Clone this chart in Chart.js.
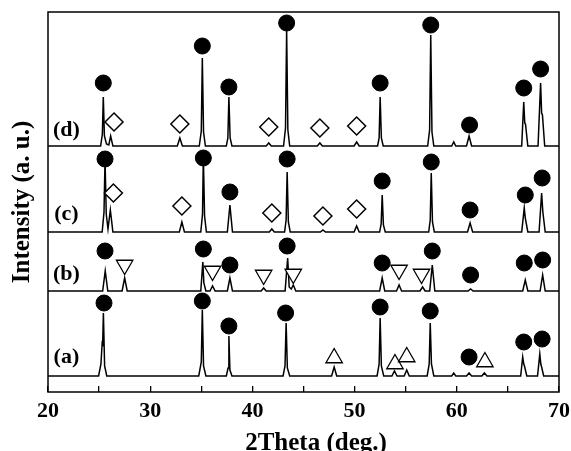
<!DOCTYPE html>
<html>
<head>
<meta charset="utf-8">
<script src="https://cdn.jsdelivr.net/npm/chart.js@4.4.1/dist/chart.umd.min.js"></script>
<style>
  body { margin: 0; background: #fff; overflow: hidden; }
</style>
</head>
<body>
<canvas id="xrdChart" width="571" height="451"></canvas>
<script>
// stacked XRD patterns, intensity above each baseline [2theta, I]
const patternA = [
    [20, 0], [24.95, 0], [25.18, 12], [25.3, 33], [25.35, 32], [25.42, 63], [25.54, 10], [25.75, 0],
    [34.75, 0], [35.0, 14], [35.1, 66], [35.22, 10], [35.45, 0],
    [37.45, 0], [37.62, 8], [37.7, 40], [37.8, 6], [38.0, 0],
    [43.0, 0], [43.19, 10], [43.3, 53], [43.42, 8], [43.65, 0],
    [47.75, 0], [48.0, 9], [48.25, 0],
    [52.2, 0], [52.4, 12], [52.5, 58], [52.62, 10], [52.85, 0],
    [53.65, 0], [53.9, 5], [54.15, 0],
    [54.85, 0], [55.1, 6], [55.35, 0],
    [57.1, 0], [57.3, 12], [57.4, 53], [57.52, 12], [57.75, 0],
    [59.5, 0], [59.7, 3], [59.9, 0],
    [60.95, 0], [61.2, 3], [61.45, 0],
    [62.45, 0], [62.7, 3], [62.95, 0],
    [66.25, 0], [66.45, 19], [66.55, 12], [66.62, 10], [66.85, 0],
    [67.9, 0], [68.12, 22], [68.22, 12], [68.3, 9], [68.5, 0],
    [70, 0]
];
const patternB = [
    [20, 0], [25.35, 0], [25.6, 20], [25.85, 0],
    [27.25, 0], [27.5, 13], [27.75, 0],
    [34.95, 0], [35.15, 29], [35.25, 8], [35.45, 0],
    [35.85, 0], [36.1, 5], [36.35, 0],
    [37.55, 0], [37.8, 13], [38.05, 0],
    [40.85, 0], [41.1, 3], [41.35, 0],
    [43.2, 0], [43.45, 33], [43.6, 4], [43.8, 2], [44.0, 6], [44.25, 0],
    [52.45, 0], [52.7, 13], [52.95, 0],
    [54.1, 0], [54.35, 6], [54.6, 0],
    [56.4, 0], [56.65, 4], [56.9, 0],
    [57.35, 0], [57.6, 26], [57.85, 0],
    [61.1, 0], [61.35, 2], [61.6, 0],
    [66.45, 0], [66.7, 11], [66.95, 0],
    [68.15, 0], [68.4, 16], [68.65, 0],
    [70, 0]
];
const patternC = [
    [20, 0], [25.3, 0], [25.48, 20], [25.58, 72], [25.7, 18], [25.87, 3], [26.1, 22], [26.35, 0],
    [32.85, 0], [33.1, 10], [33.35, 0],
    [34.95, 0], [35.12, 18], [35.2, 76], [35.32, 16], [35.5, 0],
    [37.55, 0], [37.8, 27], [38.05, 0],
    [41.65, 0], [41.9, 3], [42.15, 0],
    [43.15, 0], [43.3, 12], [43.4, 60], [43.52, 10], [43.7, 0],
    [46.65, 0], [46.9, 2], [47.15, 0],
    [49.95, 0], [50.2, 6], [50.45, 0],
    [52.45, 0], [52.6, 8], [52.7, 37], [52.82, 7], [53.0, 0],
    [57.25, 0], [57.4, 12], [57.5, 59], [57.62, 10], [57.8, 0],
    [61.05, 0], [61.3, 9], [61.55, 0],
    [66.35, 0], [66.6, 24], [66.7, 14], [66.95, 0],
    [68.05, 0], [68.3, 39], [68.42, 20], [68.65, 0],
    [70, 0]
];
const patternD = [
    [20, 0], [25.15, 0], [25.32, 12], [25.41, 49], [25.52, 10], [25.72, 2], [25.95, 1], [26.13, 10], [26.35, 0],
    [32.65, 0], [32.9, 8], [33.15, 0],
    [34.8, 0], [35.0, 15], [35.1, 88], [35.22, 14], [35.4, 0],
    [37.45, 0], [37.6, 8], [37.7, 49], [37.82, 8], [38.0, 0],
    [41.35, 0], [41.6, 3], [41.85, 0],
    [43.05, 0], [43.24, 18], [43.35, 116], [43.47, 16], [43.65, 0],
    [46.35, 0], [46.6, 3], [46.85, 0],
    [49.95, 0], [50.2, 4], [50.45, 0],
    [52.25, 0], [52.4, 8], [52.5, 49], [52.62, 8], [52.8, 0],
    [57.15, 0], [57.34, 16], [57.45, 111], [57.57, 14], [57.75, 0],
    [59.5, 0], [59.7, 4], [59.9, 0],
    [60.95, 0], [61.2, 10], [61.45, 0],
    [66.35, 0], [66.55, 44], [66.65, 23], [66.72, 22], [66.95, 0],
    [67.95, 0], [68.2, 63], [68.3, 33], [68.38, 31], [68.6, 0],
    [70, 0]
];

// vertical offsets of the stacked patterns
const seriesNames = ['(a)', '(b)', '(c)', '(d)'];
const seriesOffsets = [16, 101, 160, 246];
const labelX = 21.8;
const labelY = [35, 118, 178, 262];

// phase symbols [2theta, height on plot]
const circleMarks = [
    [25.48, 89], [35.1, 91], [37.7, 66], [43.25, 79], [52.5, 85], [57.4, 81], [61.2, 35], [66.55, 50], [68.35, 53],
    [25.58, 141], [35.2, 143], [37.8, 127], [43.4, 146], [52.7, 129], [57.6, 141], [61.35, 117], [66.6, 129], [68.4, 132],
    [25.58, 233], [35.2, 234], [37.8, 200], [43.4, 233], [52.7, 211], [57.5, 230], [61.3, 182], [66.7, 197], [68.35, 214],
    [25.41, 309], [35.1, 346], [37.7, 305], [43.35, 369], [52.5, 309], [57.45, 367], [61.25, 267], [66.55, 304], [68.2, 323]
];
const diamondMarks = [
    [26.4, 199], [33.1, 186], [41.9, 179], [46.9, 176], [50.2, 183],
    [26.46, 270], [32.9, 268], [41.6, 265], [46.6, 264], [50.2, 266]
];
const upTriangleMarks = [[48.0, 34], [53.95, 28], [55.1, 35], [62.75, 30]];
const downTriangleMarks = [[27.5, 127], [36.1, 121], [41.1, 117], [44.0, 118], [54.35, 122], [56.55, 118]];

const xTicksMajor = [20, 30, 40, 50, 60, 70];

const patterns = [patternA, patternB, patternC, patternD];

function toPoints(list, offset) {
    return list.map(p => ({ x: p[0], y: p[1] + offset }));
}

const lineSets = patterns.map((pat, i) => ({
    label: seriesNames[i],
    data: toPoints(pat, seriesOffsets[i]),
    showLine: true,
    borderColor: '#000',
    borderWidth: 1.5,
    pointRadius: 0,
    tension: 0,
    order: 2
}));

const markSets = [
    { data: toPoints(circleMarks, 0), pointStyle: 'circle', pointRadius: 8, pointBackgroundColor: '#000', pointBorderColor: '#000', pointBorderWidth: 1, order: 0 },
    { data: toPoints(diamondMarks, 0), pointStyle: 'rectRot', pointRadius: 9, pointBackgroundColor: '#fff', pointBorderColor: '#000', pointBorderWidth: 1.5, order: 0 },
    { data: toPoints(upTriangleMarks, 0), pointStyle: 'triangle', pointRadius: 9.5, pointBackgroundColor: '#fff', pointBorderColor: '#000', pointBorderWidth: 1.3, order: 0 },
    { data: toPoints(downTriangleMarks, 0), pointStyle: 'triangle', pointRotation: 180, pointRadius: 9.5, pointBackgroundColor: '#fff', pointBorderColor: '#000', pointBorderWidth: 1.3, order: 0 }
].map(ds => Object.assign({ showLine: false }, ds));

const frameAndLabels = {
    id: 'frameAndLabels',
    afterDraw(chart) {
        const { ctx, chartArea, scales } = chart;
        ctx.save();
        ctx.strokeStyle = '#000';
        ctx.lineWidth = 1.5;
        ctx.strokeRect(chartArea.left, chartArea.top, chartArea.right - chartArea.left, chartArea.bottom - chartArea.top);
        ctx.fillStyle = '#000';
        ctx.font = 'bold 22px "Liberation Serif"';
        ctx.textAlign = 'center';
        ctx.textBaseline = 'middle';
        seriesNames.forEach((name, i) => {
            ctx.fillText(name, scales.x.getPixelForValue(labelX), scales.y.getPixelForValue(labelY[i]));
        });
        ctx.restore();
    }
};

const serif = '"Liberation Serif", "Times New Roman", serif';

new Chart(document.getElementById('xrdChart'), {
    type: 'scatter',
    data: { datasets: markSets.concat(lineSets) },
    options: {
        responsive: false,
        animation: false,
        devicePixelRatio: 1,
        layout: { padding: { top: 12, right: 12, left: 0, bottom: 0 } },
        plugins: { legend: { display: false }, tooltip: { enabled: false } },
        scales: {
            x: {
                type: 'linear', min: 20, max: 70,
                border: { display: false },
                grid: { drawOnChartArea: false, drawTicks: true, tickLength: -6, color: '#000', lineWidth: 1.3 },
                ticks: {
                    stepSize: 5, padding: 12, color: '#000', maxRotation: 0,
                    font: { family: serif, size: 22, weight: 'bold' },
                    callback: v => xTicksMajor.includes(v) ? v : ''
                },
                title: {
                    display: true, text: '    2Theta (deg.)', color: '#000',
                    font: { family: serif, size: 25, weight: 'bold' },
                    padding: { top: 0, bottom: -8 }
                },
                afterFit: s => { s.height = 59; s.paddingLeft = 0; s.paddingRight = 0; }
            },
            y: {
                type: 'linear', min: 0, max: 380,
                border: { display: false },
                grid: { display: false },
                ticks: { display: false },
                title: {
                    display: true, text: 'Intensity (a. u.)', color: '#000',
                    font: { family: serif, size: 25, weight: 'bold' },
                    padding: { top: 8, bottom: 0 }
                },
                afterFit: s => { s.width = 48; s.paddingTop = 0; s.paddingBottom = 0; }
            }
        }
    },
    plugins: [frameAndLabels]
});
</script>
</body>
</html>
